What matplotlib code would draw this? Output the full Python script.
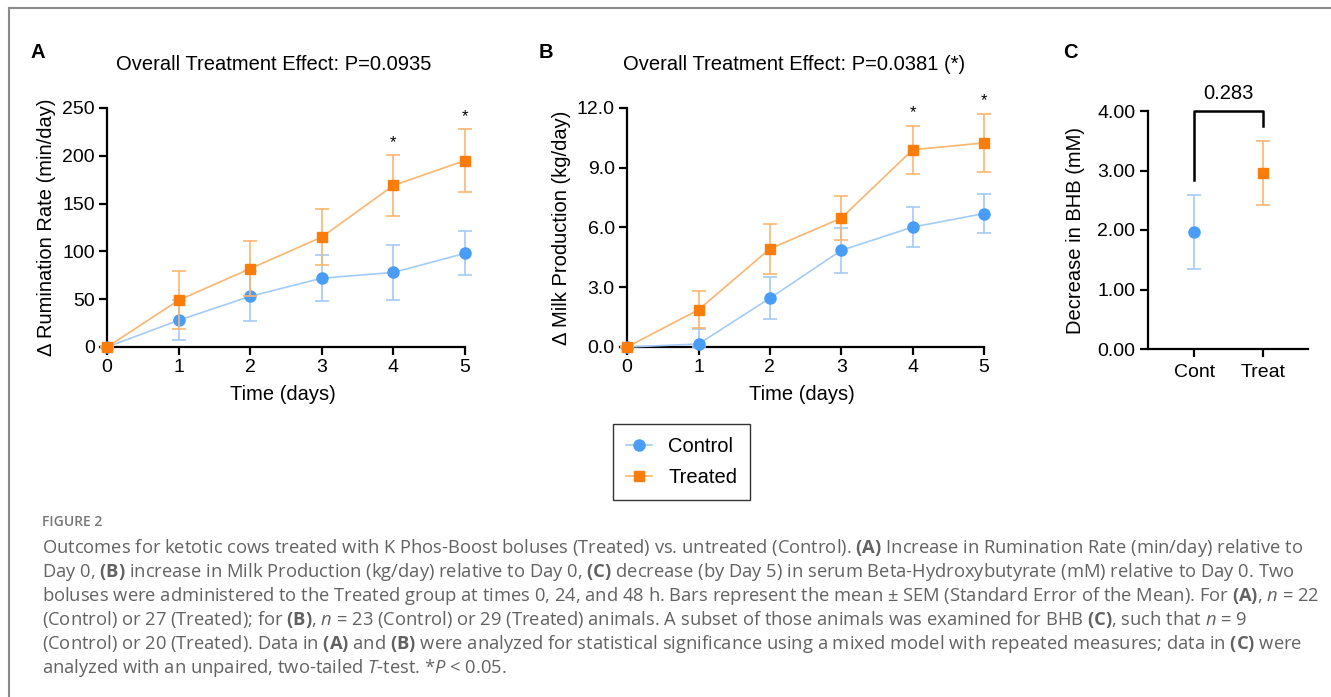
import matplotlib
matplotlib.use("Agg")
import matplotlib.pyplot as plt
from matplotlib.lines import Line2D

plt.rcParams['font.family'] = ['Liberation Sans', 'DejaVu Sans']
plt.rcParams['mathtext.fontset'] = 'custom'
plt.rcParams['mathtext.rm'] = 'Open Sans'
plt.rcParams['mathtext.it'] = 'Open Sans:italic'
plt.rcParams['mathtext.bf'] = 'Open Sans:bold'

# Data
days = [0, 1, 2, 3, 4, 5]

rum_control = [0, 28, 53, 72, 78, 98]
rum_control_sem = [0, 21, 26, 24, 29, 23]
rum_treated = [0, 49, 82, 115, 169, 195]
rum_treated_sem = [0, 30, 29, 29, 32, 33]
rum_stars = [4, 5]

milk_control = [0, 0.15, 2.45, 4.85, 6.02, 6.70]
milk_control_sem = [0, 0.77, 1.05, 1.14, 1.01, 0.99]
milk_treated = [0, 1.87, 4.93, 6.47, 9.90, 10.25]
milk_treated_sem = [0, 0.94, 1.27, 1.12, 1.19, 1.44]
milk_stars = [4, 5]

bhb_groups = ['Cont', 'Treat']
bhb_mean = [1.96, 2.96]
bhb_sem = [0.62, 0.54]
bhb_p = '0.283'

# Colours
c_marker = '#4a9df6'
c_line = '#a3cbf6'
t_marker = '#fa7d0c'
t_line = '#fbb56e'

FS = 14.5   # axis text size
W, H = 1331, 697
fig = plt.figure(figsize=(W / 100, H / 100), dpi=100)


def px_axes(left, top, right, bottom):
    # axes placed from pixel coordinates
    return fig.add_axes([left / W, 1 - bottom / H, (right - left) / W, (bottom - top) / H])


def style_axes(ax):
    for s in ['top', 'right']:
        ax.spines[s].set_visible(False)
    for s in ['left', 'bottom']:
        ax.spines[s].set_linewidth(1.6)
    ax.tick_params(direction='out', length=6, width=1.6, labelsize=FS - 0.5, pad=3)


def draw_series(ax, x, y, err, marker, mcolor, lcolor, ms, z):
    # error bars stop at the x axis, like the original
    lower = [min(e, v) for e, v in zip(err, y)]
    cont = ax.errorbar(x, y, yerr=[lower, err], color=lcolor, ecolor=lcolor, elinewidth=1.2,
                       capsize=5, capthick=1.2, lw=1.2, marker=marker, ms=ms,
                       mfc=mcolor, mec=mcolor, zorder=z)
    for child in cont.get_children():
        child.set_clip_on(False)


def time_panel(ax, control, control_sem, treated, treated_sem, ymax, yticks, fmt, ylabel, title, stars, star_off):
    style_axes(ax)
    ax.spines['left'].set_position(('data', 0))
    ax.set_xlim(-0.1, 5)
    ax.set_ylim(0, ymax)
    ax.set_xticks(days)
    ax.set_yticks(yticks)
    ax.set_yticklabels([fmt.format(v) for v in yticks])
    draw_series(ax, days, control, control_sem, 'o', c_marker, c_line, 8, 3)
    draw_series(ax, days, treated, treated_sem, 's', t_marker, t_line, 7.5, 4)
    for d in stars:
        ax.text(d, treated[d] + treated_sem[d] + star_off, '*', ha='center', va='bottom', fontsize=12)
    ax.set_xlabel('Time (days)', fontsize=FS, labelpad=6)
    ax.set_ylabel(ylabel, fontsize=FS, labelpad=4)
    ax.set_title(title, fontsize=FS, pad=27, x=0.477)


# Panel A
axA = px_axes(100, 108, 465, 347)
time_panel(axA, rum_control, rum_control_sem, rum_treated, rum_treated_sem, 250,
           [0, 50, 100, 150, 200, 250], '{:.0f}', 'Δ Rumination Rate (min/day)',
           'Overall Treatment Effect: P=0.0935', rum_stars, 5)

# Panel B
axB = px_axes(620, 108, 984, 347)
time_panel(axB, milk_control, milk_control_sem, milk_treated, milk_treated_sem, 12,
           [0, 3, 6, 9, 12], '{:.1f}', 'Δ Milk Production (kg/day)',
           'Overall Treatment Effect: P=0.0381 (*)', milk_stars, 0.3)

# Panel C
axC = px_axes(1148, 111, 1308, 349)
style_axes(axC)
axC.set_xlim(-0.67, 1.65)
axC.set_ylim(0, 4)
axC.set_yticks([0, 1, 2, 3, 4])
axC.set_yticklabels(['{:.2f}'.format(v) for v in [0, 1, 2, 3, 4]])
axC.set_xticks([0, 1])
axC.set_xticklabels(bhb_groups)
axC.tick_params(axis='x', pad=5)
draw_series(axC, [0], [bhb_mean[0]], [bhb_sem[0]], 'o', c_marker, c_line, 8, 3)
draw_series(axC, [1], [bhb_mean[1]], [bhb_sem[1]], 's', t_marker, t_line, 7.5, 4)
axC.set_ylabel('Decrease in BHB (mM)', fontsize=FS, labelpad=9)
# significance bracket
axC.plot([0, 0, 1, 1], [2.84, 4.0, 4.0, 3.75], color='black', lw=1.8, clip_on=False)
axC.text(0.5, 4.13, bhb_p, ha='center', va='bottom', fontsize=FS)

# panel letters
for lab, x in [('A', 38), ('B', 546), ('C', 1070)]:
    fig.text(x / W, 1 - 52 / H, lab, fontsize=14.5, fontweight='bold', ha='center', va='center')

# legend with plain line+marker handles
handles = [Line2D([], [], color=c_line, lw=1.2, marker='o', ms=8, mfc=c_marker, mec=c_marker),
           Line2D([], [], color=t_line, lw=1.2, marker='s', ms=7.5, mfc=t_marker, mec=t_marker)]
leg = fig.legend(handles, ['Control', 'Treated'], loc='upper left',
                 bbox_to_anchor=(613 / W, 1 - 424 / H), fontsize=FS, frameon=True,
                 fancybox=False, edgecolor='black', handlelength=1.3, borderpad=0.65,
                 labelspacing=0.6, handletextpad=0.8, borderaxespad=0)
leg.get_frame().set_linewidth(1.0)

# page border
fig.add_artist(Line2D([9 / W, 1], [1 - 8 / H, 1 - 8 / H], color='#8a8a8a', lw=1.5))
fig.add_artist(Line2D([9 / W, 9 / W], [0, 1 - 8 / H], color='#8a8a8a', lw=1.5))

# caption
cap_color = '#626262'
fig.text(42 / W, 1 - 522 / H, 'FIGURE 2', fontsize=10, color='#777777', family='Open Sans',
         fontweight='semibold', va='center')
caption = [
    'Outcomes for ketotic cows treated with K Phos-Boost boluses (Treated) vs. untreated (Control). $\\mathbf{(A)}$ Increase in Rumination Rate (min/day) relative to',
    'Day 0, $\\mathbf{(B)}$ increase in Milk Production (kg/day) relative to Day 0, $\\mathbf{(C)}$ decrease (by Day 5) in serum Beta-Hydroxybutyrate (mM) relative to Day 0. Two',
    'boluses were administered to the Treated group at times 0, 24, and 48 h. Bars represent the mean ± SEM (Standard Error of the Mean). For $\\mathbf{(A)}$, $n$ = 22',
    '(Control) or 27 (Treated); for $\\mathbf{(B)}$, $n$ = 23 (Control) or 29 (Treated) animals. A subset of those animals was examined for BHB $\\mathbf{(C)}$, such that $n$ = 9',
    '(Control) or 20 (Treated). Data in $\\mathbf{(A)}$ and $\\mathbf{(B)}$ were analyzed for statistical significance using a mixed model with repeated measures; data in $\\mathbf{(C)}$ were',
    'analyzed with an unpaired, two-tailed $T$-test. *$P$ < 0.05.',
]
for i, line in enumerate(caption):
    fig.text(42 / W, 1 - (548 + 24 * i) / H, line, fontsize=13.2, color=cap_color,
             family='Open Sans', va='center')

fig.savefig('out.png', dpi=100)
